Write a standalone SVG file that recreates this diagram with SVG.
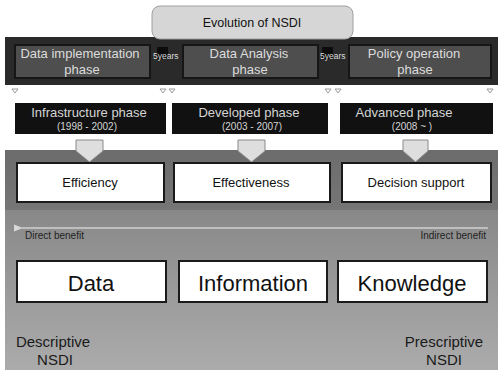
<svg xmlns="http://www.w3.org/2000/svg" width="498" height="370" viewBox="0 0 498 370">
<defs>
<linearGradient id="panelGrad" x1="0" y1="0" x2="0" y2="1">
<stop offset="0" stop-color="#6e6e6e"/>
<stop offset="0.3" stop-color="#8a8a8a"/>
<stop offset="1" stop-color="#ababab"/>
</linearGradient>
<marker id="arrL" viewBox="0 0 10 10" refX="1" refY="5" markerWidth="6" markerHeight="6" orient="auto-start-reverse">
<path d="M10,1 L0,5 L10,9 Z" fill="#d8d8d8"/>
</marker>
</defs>
<style>
text{font-family:"Liberation Sans",Arial,sans-serif;}
.phase{fill:#4e4e4e;stroke:#161616;stroke-width:2;}
.phaseT{fill:#dcdcdc;font-size:13px;text-anchor:middle;}
.yrs{fill:#dcdcdc;font-size:8.5px;}
.stage{fill:#111;}
.stageT{fill:#d4d4d4;font-size:13px;text-anchor:middle;}
.stageS{fill:#d4d4d4;font-size:10px;text-anchor:middle;}
.box{fill:#fff;stroke:#1a1a1a;stroke-width:2;}
.boxT{fill:#111;font-size:13px;text-anchor:middle;}
.bigT{fill:#111;font-size:22px;text-anchor:middle;}
.blk{fill:#dedede;stroke:#8a8a8a;stroke-width:1;}
.tick{fill:none;stroke:#9a9a9a;stroke-width:1;}
.small{fill:#222;font-size:10px;}
.side{fill:#1a1a1a;font-size:15px;text-anchor:middle;}
</style>
<rect width="498" height="370" fill="#fff"/>
<!-- panel -->
<rect x="5" y="150" width="493" height="220" fill="url(#panelGrad)"/>
<rect x="5" y="150" width="493" height="60" fill="#6a6a6a" opacity="0.6"/>
<!-- dark band -->
<rect x="5" y="37" width="493" height="48" fill="#2a2a2a"/>
<g id="title">
<rect x="152" y="6" width="201" height="33" rx="8" fill="#d6d6d6" stroke="#a0a0a0"/>
<text x="252" y="27" font-size="12.5px" fill="#111" text-anchor="middle">Evolution of NSDI</text>
</g>
<g id="phase-data-implementation">
<rect class="phase" x="15" y="45" width="135" height="33" fill="#5e5e5e"/>
<text class="phaseT" x="80" y="58">Data implementation</text>
<text class="phaseT" x="82" y="74">phase</text>
</g>
<g id="gap1">
<rect x="157" y="47" width="11" height="12" fill="#0c0c0c"/>
<text class="yrs" x="153" y="59">5years</text>
</g>
<g id="phase-data-analysis">
<rect class="phase" x="183" y="45" width="135" height="33"/>
<text class="phaseT" x="249" y="58">Data Analysis</text>
<text class="phaseT" x="250" y="74">phase</text>
</g>
<g id="gap2">
<rect x="322" y="47" width="11" height="12" fill="#0c0c0c"/>
<text class="yrs" x="320" y="59">5years</text>
</g>
<g id="phase-policy-operation">
<rect class="phase" x="349" y="45" width="142" height="33"/>
<text class="phaseT" x="414" y="58">Policy operation</text>
<text class="phaseT" x="415" y="74">phase</text>
</g>
<g id="stage-infrastructure">
<rect class="stage" x="15" y="103" width="151" height="31"/>
<text class="stageT" x="89" y="117">Infrastructure phase</text>
<text class="stageS" x="87" y="130">(1998 - 2002)</text>
</g>
<g id="stage-developed">
<rect class="stage" x="172" y="103" width="156" height="31"/>
<text class="stageT" x="249" y="117">Developed phase</text>
<text class="stageS" x="252" y="130">(2003 - 2007)</text>
</g>
<g id="stage-advanced">
<rect class="stage" x="340" y="103" width="153" height="31"/>
<text class="stageT" x="404" y="117">Advanced phase</text>
<text class="stageS" x="412" y="130">(2008 ~ )</text>
</g>
<g id="connectors">
<path class="tick" d="M12,89 h6 l-3,4 z M160,89 h6 l-3,4 z M169,89 h6 l-3,4 z M325,89 h6 l-3,4 z M335,89 h6 l-3,4 z M487,89 h6 l-3,4 z"/>
<path class="blk" d="M76,140 H103 V151 L89.5,162 L76,151 Z"/>
<path class="blk" d="M238,140 H265 V151 L251.5,162 L238,151 Z"/>
<path class="blk" d="M403,140 H428 V151 L415.5,162 L403,151 Z"/>
<line x1="22" y1="228" x2="488" y2="228" stroke="#d0d0d0" stroke-width="1.5" marker-start="url(#arrL)"/>
</g>
<g id="benefit-efficiency">
<rect class="box" x="17" y="163" width="147" height="39"/>
<text class="boxT" x="90" y="187">Efficiency</text>
</g>
<g id="benefit-effectiveness">
<rect class="box" x="174" y="163" width="156" height="39"/>
<text class="boxT" x="251" y="187">Effectiveness</text>
</g>
<g id="benefit-decision-support">
<rect class="box" x="342" y="163" width="149" height="39"/>
<text class="boxT" x="416" y="187">Decision support</text>
</g>
<g id="label-direct">
<text class="small" x="25" y="239">Direct benefit</text>
</g>
<g id="label-indirect">
<text class="small" x="486" y="239" text-anchor="end">Indirect benefit</text>
</g>
<g id="data">
<rect class="box" x="17" y="261" width="149" height="41"/>
<text class="bigT" x="91" y="291">Data</text>
</g>
<g id="information">
<rect class="box" x="179" y="261" width="148" height="41"/>
<text class="bigT" x="253" y="291">Information</text>
</g>
<g id="knowledge">
<rect class="box" x="338" y="261" width="149" height="41"/>
<text class="bigT" x="412" y="291">Knowledge</text>
</g>
<g id="descriptive">
<text class="side" x="53" y="347">Descriptive</text>
<text class="side" x="55" y="365">NSDI</text>
</g>
<g id="prescriptive">
<text class="side" x="444" y="347">Prescriptive</text>
<text class="side" x="444" y="365">NSDI</text>
</g>
</svg>
